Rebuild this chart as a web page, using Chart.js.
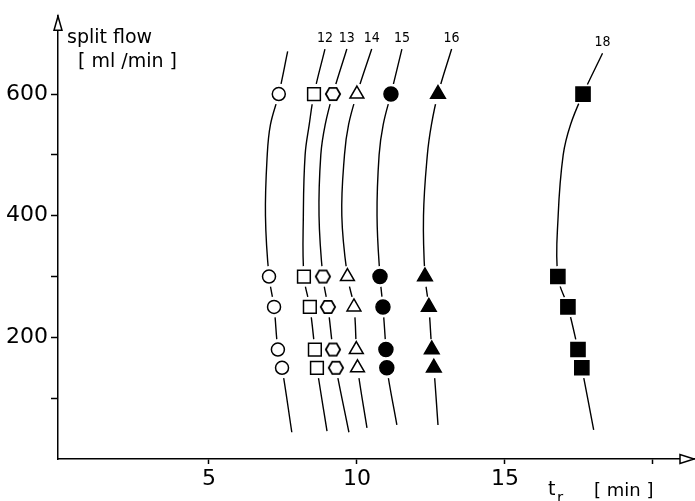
<!DOCTYPE html>
<html>
<head>
<meta charset="utf-8">
<script src="https://cdn.jsdelivr.net/npm/chart.js@4.4.1/dist/chart.umd.min.js"></script>
<style>
  html, body { margin: 0; padding: 0; background: #fff; }
</style>
</head>
<body>
<canvas id="myChart" width="695" height="501"></canvas>
<script>
// split flow levels where the markers sit [ml/min]
const flowLevels = [150, 180, 250, 300, 600];
const seriesLabels = ['', '12', '13', '14', '15', '16', '18'];

// retention time t_r [min] at each flow level
const tr11 = [7.47, 7.33, 7.20, 7.03, 7.36];
const tr12 = [8.65, 8.58, 8.41, 8.21, 8.55];
const tr13 = [9.29, 9.19, 9.02, 8.85, 9.19];
const tr14 = [10.02, 9.98, 9.90, 9.68, 10.00];
const tr15 = [11.01, 10.98, 10.88, 10.78, 11.15];
const tr16 = [12.60, 12.53, 12.43, 12.30, 12.74];
const tr18 = [17.60, 17.47, 17.13, 16.79, 17.64];

// extra points: at 400, 500, 550 ml/min, lower end, upper end
const curveMidFlow = [400, 500, 550];
const curveMid = [
  [6.91, 6.97, 7.08],
  [8.19, 8.25, 8.39],
  [8.72, 8.78, 8.93],
  [9.49, 9.58, 9.72],
  [10.68, 10.75, 10.89],
  [12.25, 12.38, 12.52],
  [16.80, 16.97, 17.22],
];
const curveBottom = [[7.80, 44], [8.99, 46], [9.73, 44], [10.34, 51], [11.35, 56], [12.74, 56], [18.00, 48]];
const curveTop = [[7.66, 670], [8.92, 674], [9.66, 674], [10.50, 674], [11.52, 674], [13.20, 674], [18.30, 667]];

const xTicks = [5, 10, 15, 20];
const xTickLabels = ['5', '10', '15', ''];
const yTicks = [100, 200, 300, 400, 500, 600];
const yTickLabels = ['', '200', '', '400', '', '600'];

const allTr = [tr11, tr12, tr13, tr14, tr15, tr16, tr18];

function hexagonImage() {
  const c = document.createElement('canvas');
  c.width = 18; c.height = 16;
  const g = c.getContext('2d');
  const cx = 9, cy = 8, rx = 7.2, ry = 6.2;
  g.beginPath();
  g.moveTo(cx - rx, cy);
  g.lineTo(cx - rx / 2, cy - ry);
  g.lineTo(cx + rx / 2, cy - ry);
  g.lineTo(cx + rx, cy);
  g.lineTo(cx + rx / 2, cy + ry);
  g.lineTo(cx - rx / 2, cy + ry);
  g.closePath();
  g.fillStyle = '#fff';
  g.fill();
  g.lineWidth = 1.8;
  g.strokeStyle = '#000';
  g.stroke();
  return c;
}

const markerStyles = [
  { pointStyle: 'circle', radius: 6.5, fill: '#fff' },
  { pointStyle: 'rect', radius: 9, fill: '#fff' },
  { pointStyle: hexagonImage(), radius: 7, fill: '#fff' },
  { pointStyle: 'triangle', radius: 8, fill: '#fff' },
  { pointStyle: 'circle', radius: 7, fill: '#000' },
  { pointStyle: 'triangle', radius: 8.5, fill: '#000' },
  { pointStyle: 'rect', radius: 10, fill: '#000' },
];

const datasets = [];

allTr.forEach((tr, i) => {
  const pts = flowLevels.map((f, j) => ({ x: tr[j], y: f }));
  // curve: bottom end, markers below 400, read mid points, 600 marker, top end
  const curve = [{ x: curveBottom[i][0], y: curveBottom[i][1] }]
    .concat(pts.slice(0, 4))
    .concat(curveMidFlow.map((f, k) => ({ x: curveMid[i][k], y: f })))
    .concat([pts[4], { x: curveTop[i][0], y: curveTop[i][1] }]);

  datasets.push({
    label: 'curve ' + i,
    data: curve,
    showLine: true,
    borderColor: '#000',
    borderWidth: 1.4,
    tension: 0.4,
    pointRadius: 0,
    order: 2,
  });
  // white gap around each marker
  datasets.push({
    label: 'gap ' + i,
    data: pts,
    showLine: false,
    pointStyle: 'circle',
    pointRadius: 10.5,
    pointBackgroundColor: '#fff',
    pointBorderWidth: 0,
    pointBorderColor: '#fff',
    order: 1,
  });
  const m = markerStyles[i];
  datasets.push({
    label: seriesLabels[i] || 'series',
    data: pts,
    showLine: false,
    pointStyle: m.pointStyle,
    pointRadius: m.radius,
    pointBackgroundColor: m.fill,
    pointBorderColor: '#000',
    pointBorderWidth: 1.5,
    order: 0,
  });
});

const decorations = {
  id: 'decorations',
  afterDraw(chart) {
    const ctx = chart.ctx;
    const xs = chart.scales.x, ys = chart.scales.y;
    const a = chart.chartArea;
    ctx.save();
    ctx.strokeStyle = '#000';
    ctx.fillStyle = '#fff';
    ctx.lineWidth = 1.5;
    // y axis arrow
    ctx.beginPath();
    ctx.moveTo(a.left, a.top);
    ctx.lineTo(a.left - 4, a.top + 14);
    ctx.lineTo(a.left + 4, a.top + 14);
    ctx.closePath();
    ctx.fill(); ctx.stroke();
    // x axis arrow
    ctx.beginPath();
    ctx.moveTo(a.right, a.bottom);
    ctx.lineTo(a.right - 14, a.bottom - 4.5);
    ctx.lineTo(a.right - 14, a.bottom + 4.5);
    ctx.closePath();
    ctx.fill(); ctx.stroke();

    ctx.fillStyle = '#000';
    ctx.textBaseline = 'alphabetic';
    ctx.textAlign = 'left';
    ctx.font = '19px "DejaVu Sans"';
    ctx.fillText('split flow', a.left + 9, 43);
    ctx.fillText('[ ml /min ]', a.left + 20, 67);

    ctx.font = '19px "DejaVu Sans"';
    ctx.fillText('t', 548, 495);
    ctx.font = '15px "DejaVu Sans"';
    ctx.fillText('r', 557, 503);
    ctx.font = '18px "DejaVu Sans"';
    ctx.fillText('[ min ]', 594, 496);

    // series numbers above the curve ends
    ctx.font = '14px "DejaVu Sans Condensed", "DejaVu Sans"';
    ctx.textAlign = 'center';
    ctx.textBaseline = 'bottom';
    seriesLabels.forEach((lab, i) => {
      if (!lab) return;
      const px = xs.getPixelForValue(curveTop[i][0]);
      const py = ys.getPixelForValue(curveTop[i][1]);
      ctx.fillText(lab, px, py - 4);
    });
    ctx.restore();
  }
};

const config = {
  type: 'scatter',
  data: { datasets: datasets },
  options: {
    responsive: false,
    animation: false,
    devicePixelRatio: 1,
    layout: { autoPadding: false, padding: { top: 15, right: 1, left: 0, bottom: 0 } },
    plugins: {
      legend: { display: false },
      tooltip: { enabled: false },
    },
    scales: {
      x: {
        type: 'linear',
        min: -0.1,
        max: 21.39,
        afterBuildTicks: (axis) => { axis.ticks = xTicks.map(v => ({ value: v })); },
        afterFit: (scale) => { scale.height = 42; },
        border: { display: true, color: '#000', width: 1.5 },
        grid: { drawOnChartArea: false, drawTicks: true, tickLength: 5, tickColor: '#000', tickWidth: 1.5 },
        ticks: {
          color: '#000',
          font: { family: 'DejaVu Sans', size: 22 },
          padding: 2,
          maxRotation: 0,
          autoSkip: false,
          callback: (v) => xTickLabels[xTicks.indexOf(v)] || '',
        },
      },
      y: {
        type: 'linear',
        min: 0,
        max: 728,
        afterBuildTicks: (axis) => { axis.ticks = yTicks.map(v => ({ value: v })); },
        afterFit: (scale) => { scale.width = 58; },
        border: { display: true, color: '#000', width: 1.5 },
        grid: { drawOnChartArea: false, drawTicks: true, tickLength: 7, tickColor: '#000', tickWidth: 1.5 },
        ticks: {
          color: '#000',
          font: { family: 'DejaVu Sans', size: 22 },
          padding: 3,
          autoSkip: false,
          callback: (v) => yTickLabels[yTicks.indexOf(v)] || '',
        },
      },
    },
  },
  plugins: [decorations],
};

const ctx = document.getElementById('myChart').getContext('2d');
const chart = new Chart(ctx, config);
</script>
</body>
</html>
